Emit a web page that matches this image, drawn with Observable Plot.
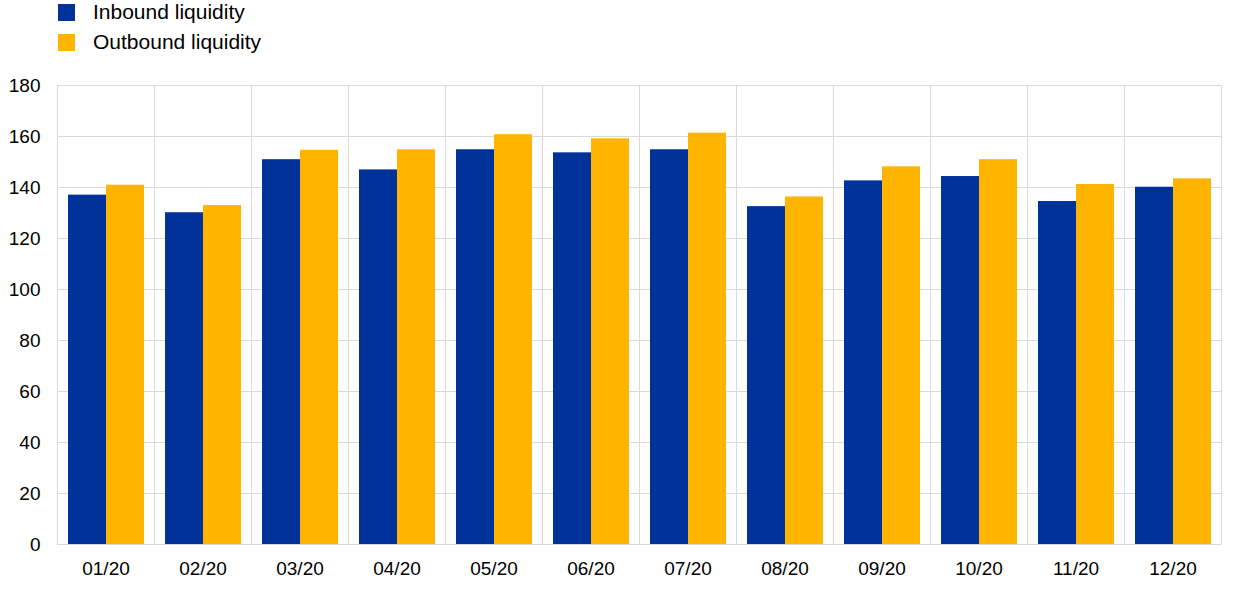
<!DOCTYPE html>
<html>
<head>
<meta charset="utf-8">
<script src="https://cdn.jsdelivr.net/npm/d3@7"></script>
<script src="https://cdn.jsdelivr.net/npm/@observablehq/plot@0.6"></script>
<style>
  html, body { margin: 0; padding: 0; background: #fff; }
  body { width: 1240px; height: 590px; overflow: hidden; font-family: "Liberation Sans", Arial, sans-serif; }
  #legend { height: 60px; position: relative; }
  .item { position: absolute; left: 58px; height: 18px; display: flex; align-items: center; font-size: 21px; color: #000; }
  .sw { width: 17px; height: 17px; margin-right: 18px; flex: none; }
</style>
</head>
<body>
<div id="legend"></div>
<div id="chart"></div>
<script>
const months = ["01/20","02/20","03/20","04/20","05/20","06/20","07/20","08/20","09/20","10/20","11/20","12/20"];
const inbound  = [137.0,130.1,150.9,146.9,154.8,153.6,154.8,132.5,142.6,144.3,134.5,140.1];
const outbound = [140.9,132.9,154.6,154.8,160.7,159.1,161.3,136.3,148.1,150.9,141.2,143.4];
const seriesNames = ["Inbound liquidity","Outbound liquidity"];
const seriesColors = ["#003299","#FFB400"];
const yTicks = [0,20,40,60,80,100,120,140,160,180];

const data = months.flatMap((m, i) => [
  {month: m, series: seriesNames[0], value: inbound[i]},
  {month: m, series: seriesNames[1], value: outbound[i]}
]);

const legend = document.getElementById("legend");
seriesNames.forEach((s, i) => {
  const d = document.createElement("div");
  d.className = "item";
  d.style.top = (3 + i * 30) + "px";
  d.innerHTML = `<span class="sw" style="background:${seriesColors[i]}"></span><span>${s}</span>`;
  legend.appendChild(d);
});

const chart = Plot.plot({
  width: 1240,
  height: 530,
  marginTop: 25,
  marginBottom: 46,
  marginLeft: 57,
  marginRight: 19,
  style: {fontSize: "19px", fontFamily: "Liberation Sans, Arial, sans-serif", color: "#000", background: "#fff"},
  facet: {data, x: "month"},
  fx: {domain: months, padding: 0, label: null, axis: "bottom", tickSize: 0, tickPadding: 17},
  x: {domain: seriesNames, paddingInner: 0, paddingOuter: 0.25, axis: null},
  y: {domain: [0, 180], ticks: yTicks, tickSize: 0, tickPadding: 17, label: null},
  color: {domain: seriesNames, range: seriesColors},
  marks: [
    Plot.ruleY(yTicks, {stroke: "#d9d9d9", strokeWidth: 1}),
    Plot.frame({stroke: "#d9d9d9", strokeWidth: 1}),
    Plot.barY(data, {x: "series", y: "value", fill: "series"})
  ]
});
document.getElementById("chart").appendChild(chart);
</script>
</body>
</html>
